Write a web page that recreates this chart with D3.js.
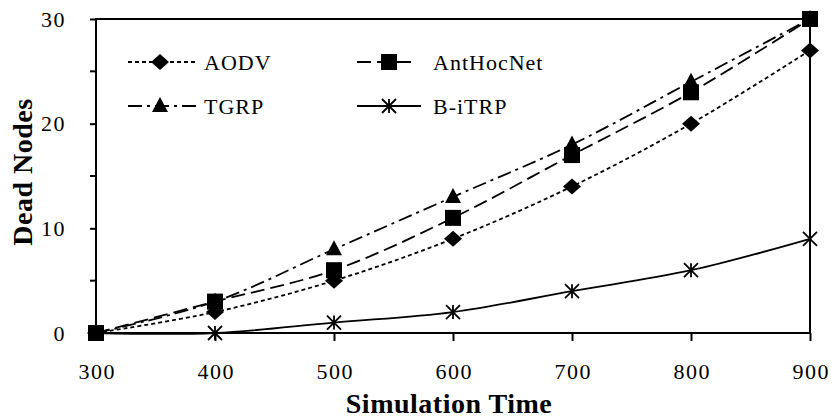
<!DOCTYPE html>
<html><head><meta charset="utf-8">
<script src="https://cdn.jsdelivr.net/npm/d3@7"></script>
<style>body{margin:0;background:#fff}svg{display:block}text{font-family:"Liberation Serif","Times New Roman",serif;fill:#000}</style>
</head><body><svg id="c" width="834" height="419"></svg>
<script>
const times = [300, 400, 500, 600, 700, 800, 900];
const aodv = [0, 2, 5, 9, 14, 20, 27];
const antHocNet = [0, 3, 6, 11, 17, 23, 30];
const tgrp = [0, 3, 8, 13, 18, 24, 30];
const bitrp = [0, 0, 1, 2, 4, 6, 9];
const xTicks = [300, 400, 500, 600, 700, 800, 900];
const yTicks = [0, 10, 20, 30];
const yMinor = [5, 15, 25];

const svg = d3.select("#c");
const L = 96, R = 810, T = 19, B = 333;
const x = d3.scaleLinear().domain([300, 900]).range([L, R]);
const y = d3.scaleLinear().domain([0, 30]).range([B, T]);

// frame
svg.append("rect").attr("x", L).attr("y", T).attr("width", R - L).attr("height", B - T)
  .attr("fill", "none").attr("stroke", "#000").attr("stroke-width", 2);

// x axis
const xa = svg.append("g").attr("transform", `translate(0,${B})`)
  .call(d3.axisBottom(x).tickValues(xTicks).tickSize(8).tickPadding(22).tickFormat(d3.format("d")));
xa.select(".domain").remove();
xa.selectAll("line").attr("stroke-width", 2);
xa.selectAll("text").attr("font-size", 22).attr("letter-spacing", 1.5).attr("dx", 0.75);

// y axis
const ya = svg.append("g").attr("transform", `translate(${L},0)`)
  .call(d3.axisLeft(y).tickValues(yTicks).tickSize(6).tickPadding(24).tickFormat(d3.format("d")));
ya.select(".domain").remove();
ya.selectAll("line").attr("stroke-width", 2);
ya.selectAll("text").attr("font-size", 22).attr("letter-spacing", 1.5);
svg.append("g").selectAll("line").data(yMinor).join("line")
  .attr("x1", L - 6).attr("x2", L).attr("y1", d => y(d)).attr("y2", d => y(d))
  .attr("stroke", "#000").attr("stroke-width", 2);

// titles
svg.append("text").attr("x", 449).attr("y", 413).attr("text-anchor", "middle")
  .attr("font-size", 28).attr("font-weight", "bold").attr("letter-spacing", 0.5).text("Simulation Time");
svg.append("text").attr("transform", `translate(32,172) rotate(-90)`)
  .attr("text-anchor", "middle").attr("font-size", 28).attr("font-weight", "bold").attr("letter-spacing", 0.5).text("Dead Nodes");

const series = [
  {name: "AODV", vals: aodv, dash: "4,3", marker: "diamond", lx: 128, ly: 62, len: 69},
  {name: "AntHocNet", vals: antHocNet, dash: "14,6", marker: "square", lx: 357, ly: 62, len: 60},
  {name: "TGRP", vals: tgrp, dash: "14,5,3,5", marker: "triangle", lx: 128, ly: 106, len: 69},
  {name: "B-iTRP", vals: bitrp, dash: null, marker: "star", lx: 357, ly: 106, len: 64}
];

const line = d3.line().x(d => x(d[0])).y(d => y(d[1])).curve(d3.curveCatmullRom.alpha(0.5));

function drawMarker(g, type, cx, cy) {
  if (type === "diamond") {
    g.append("path").attr("d", `M${cx},${cy - 8}L${cx + 9},${cy}L${cx},${cy + 8}L${cx - 9},${cy}Z`).attr("fill", "#000");
  } else if (type === "square") {
    g.append("rect").attr("x", cx - 8).attr("y", cy - 8).attr("width", 16).attr("height", 16).attr("fill", "#000");
  } else if (type === "triangle") {
    g.append("path").attr("d", `M${cx},${cy - 9}L${cx + 8},${cy + 6}L${cx - 8},${cy + 6}Z`).attr("fill", "#000");
  } else if (type === "star") {
    const s = 7;
    g.append("path").attr("d",
      `M${cx - s},${cy - s}L${cx + s},${cy + s}M${cx - s},${cy + s}L${cx + s},${cy - s}M${cx},${cy - s}L${cx},${cy + s}`)
      .attr("stroke", "#000").attr("stroke-width", 1.8).attr("fill", "none");
  }
}

series.forEach(s => {
  const pts = times.map((t, i) => [t, s.vals[i]]);
  svg.append("path").datum(pts).attr("d", line).attr("fill", "none")
    .attr("stroke", "#000").attr("stroke-width", 1.8)
    .attr("stroke-dasharray", s.dash);
  const g = svg.append("g");
  pts.forEach(p => drawMarker(g, s.marker, x(p[0]), y(p[1])));
  // legend
  const lg = svg.append("g");
  lg.append("line").attr("x1", s.lx).attr("x2", s.lx + s.len).attr("y1", s.ly).attr("y2", s.ly)
    .attr("stroke", "#000").attr("stroke-width", 1.8).attr("stroke-dasharray", s.dash);
  drawMarker(lg, s.marker, s.lx + 32, s.ly);
  lg.append("text").attr("x", s.lx + 76).attr("y", s.ly + 8).attr("font-size", 22).attr("letter-spacing", 1).text(s.name);
});
</script></body></html>
